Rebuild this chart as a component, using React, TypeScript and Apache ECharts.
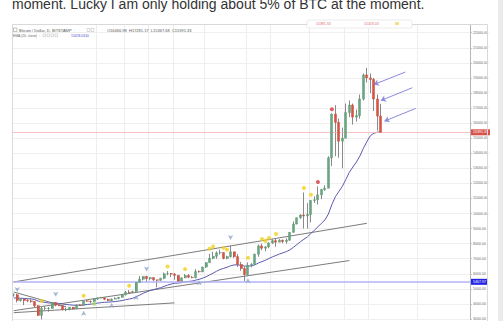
import React, { useEffect, useRef } from 'react';
import * as echarts from 'echarts';

// ---- categories (daily) ----
const START_DATE = '2017-09-07';
const DAY_COUNT = 131;
const dates: string[] = (() => {
  const out: string[] = [];
  const [y, m, d] = START_DATE.split('-').map(Number);
  const t0 = Date.UTC(y, m - 1, d);
  for (let i = 0; i < DAY_COUNT; i++) {
    out.push(new Date(t0 + i * 86400000).toISOString().slice(0, 10));
  }
  return out;
})();

// ---- OHLC (BTC/USD, Bitstamp, daily) ----
const opens = [4590,4610,4230,4330,4230,4200,4160,3880,3240,3700, 3700,3700,4090,3910,3880,3620,3620,3780,3670,3930, 3890,4200,4180,4160,4340,4400,4410,4310,4220,4320, 4370,4440,4610,4780,4760,4820,5430,5640,5830,5680, 5750,5600,5570,5700,6000,6010,5980,5900,5510,5730, 5890,5770,5750,6150,6130,6450,6740,7030,7160,7390, 7410,7020,7140,7460,7140,6620,6350,5950,6560,6630, 7300,7850,7700,7790,8040,8200,8100,8230,8140,8230, 8750,9300,9720,9900,9840,9940,10870,10910,11240,11600, 11680,13700,16600,16050,14800,15000,16700,17200,16400,16500, 17600,19200,19000,18900,17600,16467];
const closes = [4610,4230,4330,4230,4200,4160,3880,3240,3700,3700, 3700,4090,3910,3880,3620,3620,3780,3670,3930,3890, 4200,4180,4160,4340,4400,4410,4310,4220,4320,4370, 4440,4610,4780,4760,4820,5430,5640,5830,5680,5750, 5600,5570,5700,6000,6010,5980,5900,5510,5730,5890, 5770,5750,6150,6130,6450,6740,7030,7160,7390,7410, 7020,7140,7460,7140,6620,6350,5950,6560,6630,7300, 7850,7700,7790,8040,8200,8100,8230,8140,8230,8750, 9300,9720,9900,9840,9940,10870,10910,11240,11600,11680, 13700,16600,16050,14800,15000,16700,17200,16400,16500,17600, 19200,19000,18900,17600,16467,15391];
const lows = [4480,4100,4150,3920,4120,4080,3760,3200,2970,3560, 3480,3700,3850,3850,3580,3520,3580,3630,3670,3870, 3890,4140,4040,4160,4260,4380,4250,4180,4170,4310, 4310,4420,4560,4720,4740,4810,5400,5560,5450,5570, 5510,5100,5530,5640,5900,5780,5600,5460,5380,5720, 5710,5700,5690,6080,6110,6380,6740,6970,7000,7290, 6960,6960,7080,7040,6450,6200,5500,5840,6430,6630, 7130,7570,7500,7700,7980,7800,8100,8030,8000,8190, 8750,9290,9650,9000,9000,9410,10700,10600,10950,11500, 11680,13150,13800,13700,13000,15000,16400,15900,16100,16300, 17500,18700,18000,16800,15500,15368];
const highs = [4700,4680,4360,4340,4380,4370,4170,3920,3800,3870, 3800,4120,4120,4050,3910,3760,3800,3790,3980,4000, 4220,4260,4220,4360,4410,4470,4430,4350,4360,4440, 4460,4630,4870,4920,4880,5440,5850,5840,5860,5790, 5780,5610,5740,6080,6180,6050,6050,5910,5760,5990, 5980,5860,6310,6230,6470,6760,7320,7460,7490,7600, 7420,7200,7880,7460,7310,6790,6490,6750,6700,7340, 7940,8000,7830,8100,8290,8370,8300,8270,8350,8760, 9480,9720,9960,11400,10700,10900,11150,11800,11600,11880, 13800,16650,17200,16300,15700,17300,17500,17300,16900,17900, 19300,19670,19300,19000,17900,17281];

// ---- EMA(20, close) ----
const ema20 = [4401,4385,4380,4366,4350,4332,4289,4189,4142,4100, 4062,4065,4050,4034,3995,3959,3942,3916,3917,3914, 3941,3964,3983,4017,4053,4087,4108,4119,4138,4160, 4187,4227,4280,4326,4373,4474,4585,4704,4797,4888, 4956,5014,5079,5167,5247,5317,5373,5386,5419,5464, 5493,5517,5577,5630,5708,5806,5923,6041,6169,6287, 6357,6432,6530,6588,6591,6568,6509,6514,6525,6599, 6718,6811,6904,7012,7125,7218,7314,7393,7473,7595, 7757,7944,8130,8293,8450,8680,8892,9116,9352,9574, 9967,10598,11117,11468,11804,12270,12739,13088,13413,13812, 14325,14770,15163,15330,15400,15418];

// ---- signal markers ----
const yellowDots: [string, number][] = [['2017-09-15',4200],['2017-09-27',4550],['2017-10-10',5200],['2017-10-21',6480],['2017-10-26',6310],['2017-11-02',7660],['2017-11-03',7810],['2017-11-06',7720],['2017-11-07',7590],['2017-11-13',7070],['2017-11-17',8310],['2017-11-18',8180],['2017-11-19',8380],['2017-11-21',8640],['2017-11-29',11700],['2017-12-01',11240]];
const redDots: [string, number][] = [['2017-12-03',12090],['2017-12-07',16920]];
const greenDots: [string, number][] = [['2017-09-30',4010]];
const downArrows: [string, number][] = [['2017-09-08',4790],['2017-09-19',4480],['2017-10-15',6160],['2017-11-08',8250]];
const upArrows: [string, number][] = [['2017-09-27',3550],['2017-10-05',4070],['2017-10-12',4600],['2017-10-30',5570],['2017-11-13',5700]];

// ---- drawings ----
const trendLines: [string, number, string, number][] = [
  ['2017-09-07', 5460, '2017-12-17', 9350],
  ['2017-09-07', 3550, '2017-12-12', 6880],
  ['2017-09-07', 4790, '2017-09-22', 3810],
  ['2017-09-07', 3420, '2017-10-23', 4070],
];
const noteArrows: [string, number, string, number][] = [
  ['2017-12-28', 19390, '2017-12-19', 18560],
  ['2017-12-30', 18350, '2017-12-21', 17500],
  ['2017-12-31', 16980, '2017-12-22', 16130],
];
const lastPrice = 15391.33;
const levelPrice = 5467.97;
const gridDates = ['2017-10-01','2017-10-09','2017-10-16','2017-10-23','2017-11-01','2017-11-13','2017-11-20','2017-12-01','2017-12-11','2017-12-18','2018-01-01'];

const Y_MIN = 3000;
const Y_MAX = 23000;
const Y_STEP = 1000;

export default function App() {
  const ref = useRef<HTMLDivElement>(null);
  useEffect(() => {
    if (!ref.current) return;
    const chart = echarts.init(ref.current, undefined, { renderer: 'svg' });
    const bodies = opens.map((o, i) => {
      const c = closes[i];
      return [o, c, Math.min(o, c), Math.max(o, c)];
    });
    const wicks = opens.map((o, i) => [o, closes[i], lows[i], highs[i]]);
    const font = 'Arial, "Liberation Sans", sans-serif';
    const option: any = {
      animation: false,
      grid: { left: 12, right: 33, top: 17.66, bottom: -3.34 },
      xAxis: {
        type: 'category',
        data: dates,
        boundaryGap: true,
        axisLine: { show: false },
        axisTick: { show: false },
        axisLabel: { show: false },
        splitLine: {
          show: true,
          interval: (_i: number, v: string) => gridDates.includes(v),
          lineStyle: { color: '#ededed', width: 1 },
        },
      },
      yAxis: {
        type: 'value',
        position: 'right',
        min: Y_MIN,
        max: Y_MAX,
        interval: Y_STEP,
        axisLine: { show: true, lineStyle: { color: '#b5b5b5' } },
        axisTick: { show: true, length: 2, lineStyle: { color: '#c0c0c0' } },
        axisLabel: { fontSize: 3.6, color: '#6a6a6a', margin: 3, fontFamily: font, formatter: (v: number) => v.toFixed(2) },
        splitLine: { show: true, lineStyle: { color: '#efefef', width: 1 } },
      },
      series: [
        ...trendLines.map((t) => ({
          type: 'line',
          data: [[t[0], t[1]], [t[2], t[3]]],
          symbol: 'none',
          lineStyle: { color: '#7c7c7c', width: 1 },
          z: 1,
        })),
        {
          type: 'line',
          name: 'EMA',
          data: ema20,
          symbol: 'none',
          lineStyle: { color: '#5b5bb0', width: 1 },
          z: 3,
        },
        {
          type: 'candlestick',
          data: wicks,
          barWidth: 1,
          itemStyle: { color: '#8a8a8a', color0: '#8a8a8a', borderColor: '#8a8a8a', borderColor0: '#8a8a8a', borderWidth: 1 },
          z: 4,
          markLine: {
            silent: true,
            symbol: 'none',
            data: [
              {
                yAxis: levelPrice,
                lineStyle: { color: '#b3b3f6', width: 1.6, type: 'solid' },
                label: { show: true, position: 'end', distance: 1, formatter: levelPrice.toFixed(2), fontSize: 3.6, color: '#fff', backgroundColor: '#2323e6', padding: [1, 2], fontFamily: font },
              },
              {
                yAxis: lastPrice,
                lineStyle: { color: '#f2b4b1', width: 0.8, type: 'solid' },
                label: { show: true, position: 'end', distance: 1, formatter: lastPrice.toFixed(2), fontSize: 3.6, color: '#fff', backgroundColor: '#d8524c', padding: [1, 2], fontFamily: font },
              },
            ],
          },
        },
        {
          type: 'candlestick',
          data: bodies,
          barWidth: 2.5,
          itemStyle: { color: '#6ba583', color0: '#d75442', borderColor: '#5b9a74', borderColor0: '#c9483a', borderWidth: 0.5 },
          z: 5,
          markLine: {
            silent: true,
            symbol: ['none', 'arrow'],
            symbolSize: 5,
            lineStyle: { color: '#8a8ae0', width: 1, type: 'solid' },
            label: { show: false },
            data: noteArrows.map((a) => [{ coord: [a[0], a[1]] }, { coord: [a[2], a[3]] }]),
          },
        },
        { type: 'scatter', data: yellowDots, symbolSize: 4, itemStyle: { color: '#f2d01c' }, z: 6 },
        { type: 'scatter', data: redDots, symbolSize: 4, itemStyle: { color: '#d83a3a' }, z: 6 },
        { type: 'scatter', data: greenDots, symbolSize: 4, itemStyle: { color: '#a6d76a' }, z: 6 },
        { type: 'scatter', data: downArrows, symbol: 'arrow', symbolRotate: 180, symbolSize: [4, 5], itemStyle: { color: '#8fa3c8' }, z: 6 },
        { type: 'scatter', data: upArrows, symbol: 'arrow', symbolSize: [4, 5], itemStyle: { color: '#8fa3c8' }, z: 6 },
      ],
      graphic: [
        { type: 'rect', z: 100, shape: { x: 0, y: 0, width: 503, height: 24 }, style: { fill: '#ffffff' } },
        { type: 'text', z: 101, x: 12, y: 4, style: { text: 'moment. Lucky I am only holding about 5% of BTC at the moment.', font: '14px Arial, "Liberation Sans", sans-serif', fill: '#333333', verticalAlign: 'middle' } },
        { type: 'rect', z: 102, shape: { x: 12.5, y: 24.5, width: 475, height: 310 }, style: { fill: 'none', stroke: '#d9d9d9', lineWidth: 1 } },
        { type: 'rect', z: 102, shape: { x: 498, y: 0, width: 5, height: 321 }, style: { fill: '#ebebeb' } },
        { type: 'rect', z: 103, shape: { x: 307, y: 20, width: 105, height: 8, r: 2 }, style: { fill: '#ffffff', stroke: '#e2e2e2', lineWidth: 0.7 } },
        { type: 'text', z: 104, x: 316, y: 23.5, style: { text: '15391.33', font: '3.5px Arial, sans-serif', fill: '#e06a6a', verticalAlign: 'middle' } },
        { type: 'text', z: 104, x: 364, y: 23.5, style: { text: '15418.03', font: '3.5px Arial, sans-serif', fill: '#d87070', verticalAlign: 'middle' } },
        { type: 'rect', z: 104, shape: { x: 395, y: 22, width: 4, height: 3 }, style: { fill: '#f3df8a' } },
        { type: 'rect', z: 103, shape: { x: 13.5, y: 28, width: 3.5, height: 3.5 }, style: { fill: 'none', stroke: '#9a9a9a', lineWidth: 0.6 } },
        { type: 'text', z: 103, x: 19, y: 30, style: { text: 'Bitcoin / Dollar, D, BITSTAMP  ·', font: '4px Arial, sans-serif', fill: '#555555', verticalAlign: 'middle' } },
        { type: 'rect', z: 103, shape: { x: 87, y: 28.5, width: 3, height: 3 }, style: { fill: 'none', stroke: '#b5b5b5', lineWidth: 0.5 } },
        { type: 'rect', z: 103, shape: { x: 91, y: 28.5, width: 3, height: 3 }, style: { fill: 'none', stroke: '#b5b5b5', lineWidth: 0.5 } },
        { type: 'text', z: 103, x: 107, y: 30, style: { text: 'O16466.98  H17281.17  L15367.68  C15391.33', font: '4px Arial, sans-serif', fill: '#555555', verticalAlign: 'middle' } },
        { type: 'text', z: 103, x: 13, y: 35.5, style: { text: 'EMA (20, close)  ·', font: '3.4px Arial, sans-serif', fill: '#666666', verticalAlign: 'middle' } },
        { type: 'rect', z: 103, shape: { x: 43, y: 34, width: 2.6, height: 2.6 }, style: { fill: 'none', stroke: '#b5b5b5', lineWidth: 0.5 } },
        { type: 'rect', z: 103, shape: { x: 47, y: 34, width: 2.6, height: 2.6 }, style: { fill: 'none', stroke: '#b5b5b5', lineWidth: 0.5 } },
        { type: 'rect', z: 103, shape: { x: 51, y: 34, width: 2.6, height: 2.6 }, style: { fill: 'none', stroke: '#b5b5b5', lineWidth: 0.5 } },
        { type: 'rect', z: 103, shape: { x: 55, y: 34, width: 2.6, height: 2.6 }, style: { fill: 'none', stroke: '#b5b5b5', lineWidth: 0.5 } },
        { type: 'text', z: 103, x: 71, y: 35.5, style: { text: '15418.0310', font: '3.4px Arial, sans-serif', fill: '#4b4bd0', verticalAlign: 'middle' } },
      ],
    };
    chart.setOption(option);
    return () => chart.dispose();
  }, []);
  return <div ref={ref} style={{ position: 'absolute', left: 0, top: 0, width: 503, height: 321 }} />;
}
